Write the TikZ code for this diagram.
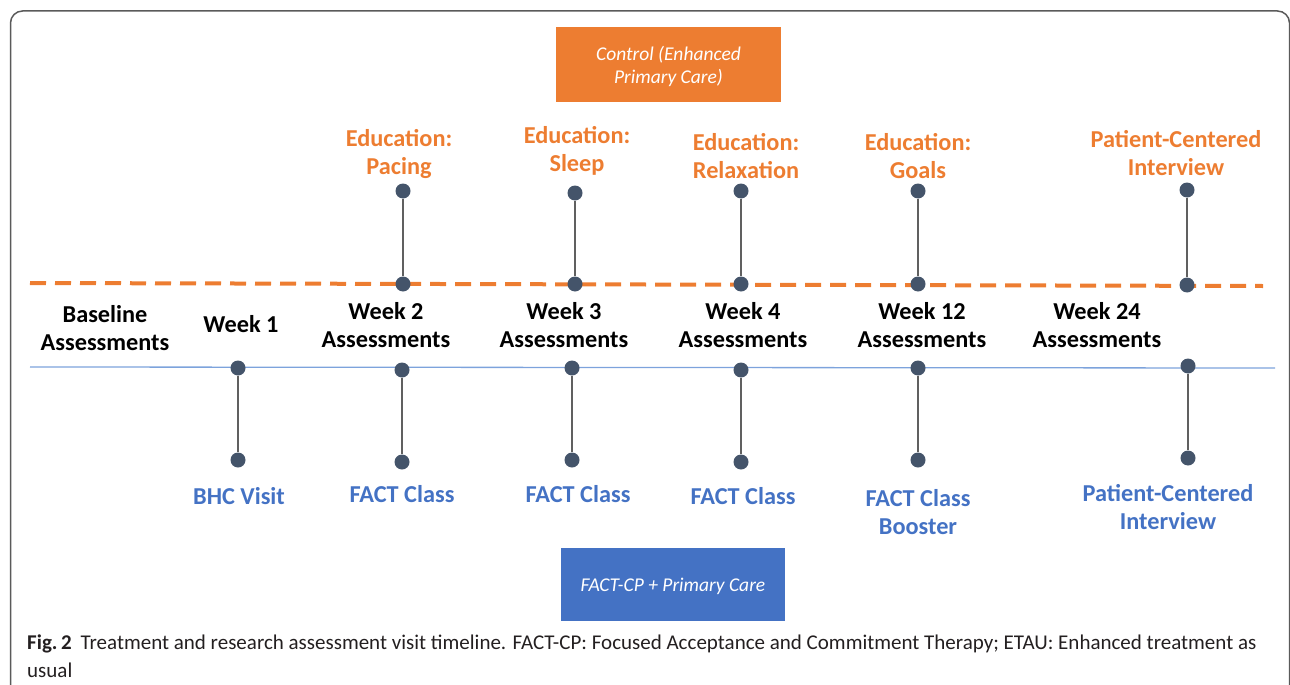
\documentclass[tikz,border=0pt]{standalone}
\usepackage{fontspec}
\setmainfont{Carlito}
\definecolor{orng}{HTML}{ED7D31}
\definecolor{blu}{HTML}{4472C4}
\definecolor{lblu}{HTML}{7DA3DC}
\definecolor{dotc}{HTML}{44546A}
\definecolor{stemc}{HTML}{606060}
\definecolor{frame}{HTML}{5A5A5A}
\definecolor{capc}{HTML}{231F20}
\begin{document}
\begin{tikzpicture}[x=1pt,y=-1pt,
  dot/.style={circle,fill=dotc,inner sep=0pt,minimum size=15pt},
  stem/.style={draw=stemc,line width=2pt},
  lbl/.style={font=\fontsize{24.3}{28.5}\selectfont\bfseries,align=center,inner sep=0pt,anchor=base},
  wk/.style={lbl,text=black},
  ctl/.style={lbl,text=orng},
  trt/.style={lbl,text=blu},
  box/.style={draw=none,inner sep=0pt,text=white,align=center,anchor=base,
    font=\fontsize{19.5}{24}\selectfont\itshape}]
\useasboundingbox (0,0) rectangle (1290,685);
\begin{scope}
\clip (0,0) rectangle (1290,685);
\draw[frame,line width=1.5pt,rounded corners=12pt] (10.5,11) rectangle (1289.5,720);
\end{scope}
% boxes
\path[fill=orng] (556,27) rectangle (781,102);
\node[box] (ctlbox) at (668.5,84) {Control (Enhanced\\Primary Care)};
\path[fill=blu] (561,548) rectangle (785,621);
\node[box] (trtbox) at (673,591) {FACT-CP + Primary Care};
% lines
\coordinate (dl) at (30,283);
\coordinate (dr) at (1263,286);
\draw[orng,line width=4pt,dash pattern=on 16pt off 9pt] (dl) -- (dr);
\coordinate (bl) at (30,367);
\coordinate (br) at (1275,368);
\draw[lblu,line width=1.3pt] (bl) -- (br);
% top stems
\node[dot] (t1) at (403,191) {}; \node[dot] (u1) at (403,284) {};
\node[dot] (t2) at (575,193) {}; \node[dot] (u2) at (575,284) {};
\node[dot] (t3) at (741,191) {}; \node[dot] (u3) at (741,284) {};
\node[dot] (t4) at (918,191) {}; \node[dot] (u4) at (918,284) {};
\node[dot] (t5) at (1187,190) {}; \node[dot] (u5) at (1187,285) {};
\foreach \i in {1,...,5} {\draw[stem] (t\i) -- (u\i);}
% bottom stems
\node[dot] (b0) at (238,368) {}; \node[dot] (c0) at (238,460) {};
\node[dot] (b1) at (402,370) {}; \node[dot] (c1) at (402,462) {};
\node[dot] (b2) at (572,368) {}; \node[dot] (c2) at (572,460) {};
\node[dot] (b3) at (741,370) {}; \node[dot] (c3) at (741,462) {};
\node[dot] (b4) at (918,368) {}; \node[dot] (c4) at (918,460) {};
\node[dot] (b5) at (1188,366) {}; \node[dot] (c5) at (1188,458) {};
\foreach \i in {0,...,5} {\draw[stem] (b\i) -- (c\i);}
% control labels (anchor = baseline of last line)
\node[ctl] (e1) at (399,174.5) {Education:\\Pacing};
\node[ctl] (e2) at (577,171.5) {Education:\\Sleep};
\node[ctl] (e3) at (746,178.5) {Education:\\Relaxation};
\node[ctl] (e4) at (918,178.5) {Education:\\Goals};
\node[ctl] (e5) at (1176,175.5) {Patient-Centered\\Interview};
% week labels
\node[wk] (w0) at (105,350.5) {Baseline\\Assessments};
\node[wk] (w1) at (241,332.5) {Week 1};
\node[wk] (w2) at (386,347.5) {Week 2\\Assessments};
\node[wk] (w3) at (564,347.5) {Week 3\\Assessments};
\node[wk] (w4) at (743,347.5) {Week 4\\Assessments};
\node[wk] (w12) at (922,347.5) {Week 12\\Assessments};
\node[wk] (w24) at (1097,347.5) {Week 24\\Assessments};
% treatment labels
\node[trt] (f0) at (239,504) {BHC Visit};
\node[trt] (f1) at (402,502) {FACT Class};
\node[trt] (f2) at (578,502) {FACT Class};
\node[trt] (f3) at (743,504) {FACT Class};
\node[trt] (f4) at (918,534.5) {FACT Class\\Booster};
\node[trt] (f5) at (1168,529.5) {Patient-Centered\\Interview};
% caption
\node[anchor=base west,inner sep=0pt,align=left,text=capc,
  font=\fontsize{21}{28}\selectfont] (cap) at (27,677)
  {{\bfseries Fig.\,2}\hspace{9pt}Treatment and research assessment visit timeline. FACT-CP: Focused Acceptance and Commitment Therapy; ETAU: Enhanced treatment as\\usual};
\end{tikzpicture}
\end{document}
